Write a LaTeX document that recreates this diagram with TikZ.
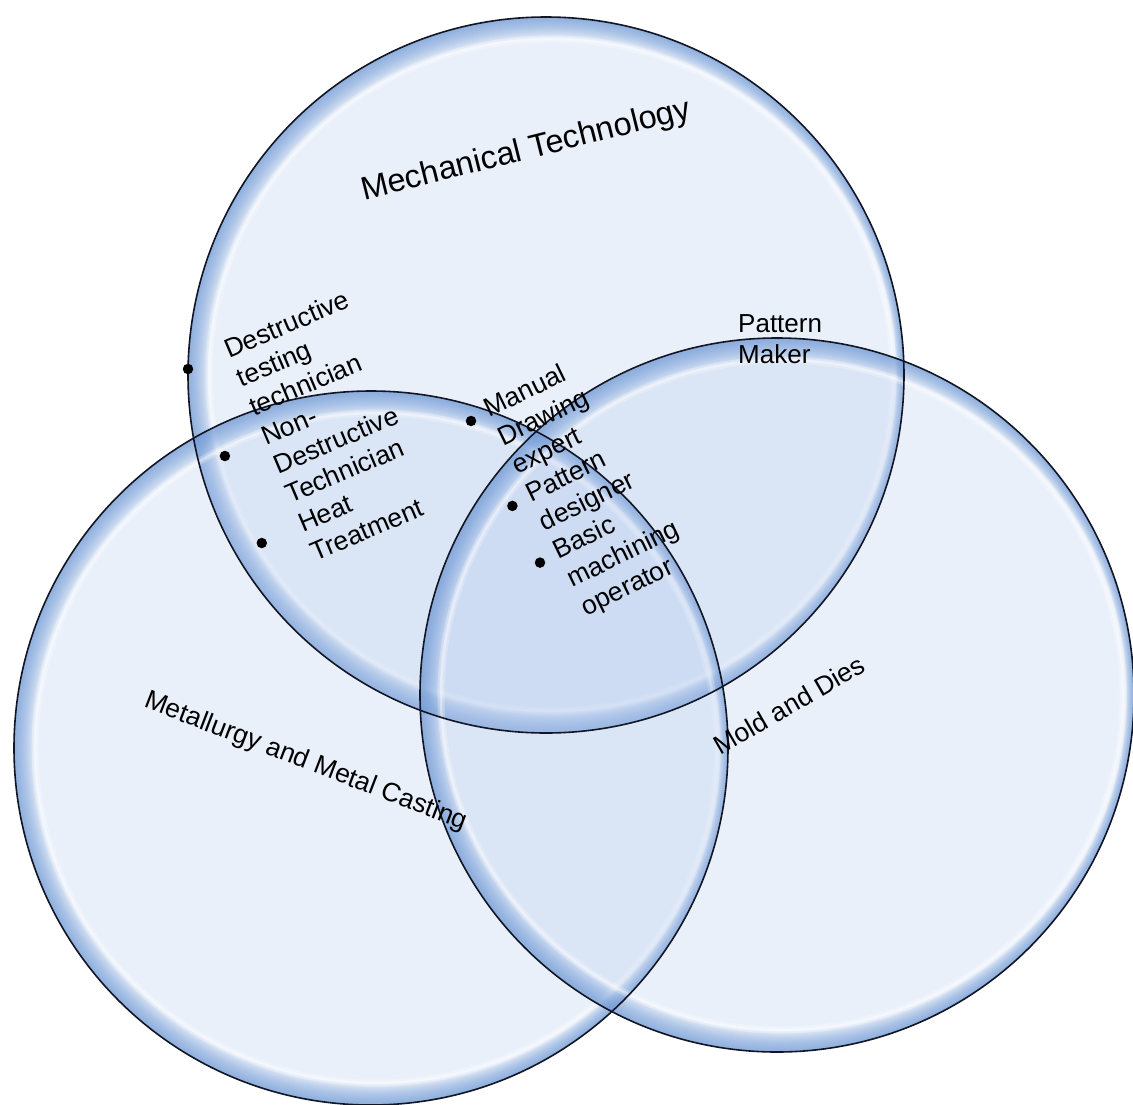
\documentclass[tikz,border=0pt]{standalone}
\usepackage{fontspec}
\setmainfont{Liberation Sans}
\definecolor{discfill}{RGB}{170,195,235}
\definecolor{rimblue}{RGB}{112,156,218}
\definecolor{edgeline}{RGB}{18,22,36}
% glassy disc: pale fill, soft blue rim thinner on the right, white glint ring
\newcommand\glassdisc[3]{%
  \fill[discfill, opacity=0.24] (#1,#2) circle (#3);
  \foreach \k in {1,...,22}{%
    \fill[rimblue, opacity=0.052, even odd rule]
      (#1,#2) circle (#3)
      ({#1+0.28*\k},#2) ellipse ({#3-0.65*\k} and {#3-0.95*\k});
  }%
  \draw[white, opacity=0.25, line width=7pt] ({#1+5},#2) ellipse ({#3-16} and {#3-22});
  \draw[white, opacity=0.35, line width=2.5pt] ({#1+5},#2) ellipse ({#3-16} and {#3-22});
}
\begin{document}
\begin{tikzpicture}[x=1pt,y=-1pt,
  lbl/.style={inner sep=0pt, font=\fontsize{26.5}{31.5}\selectfont},
  biglbl/.style={inner sep=0pt, font=\fontsize{32.5}{38}\selectfont},
  pmlbl/.style={inner sep=0pt, font=\fontsize{26}{31}\selectfont},
  dot/.style={circle, fill=black, inner sep=0pt, minimum size=10.5pt},
  rim/.style={draw=edgeline, line width=1.6pt}]
\useasboundingbox (0,0) rectangle (1133,1104);
\fill[white] (0,0) rectangle (1133,1104);
\begin{scope}
\clip (0,0) rectangle (1133,1104);
% the three sets
\glassdisc{546}{375}{358}
\glassdisc{371}{748}{357}
\glassdisc{777}{695}{357}
\draw[rim] (546,375) circle (358);
\draw[rim] (371,748) circle (357);
\draw[rim] (777,695) circle (357);
\end{scope}

% set titles
\node[biglbl, rotate=14] (mech) at (526,151) {Mechanical Technology};
\node[lbl, rotate=-21] (metal) at (306,762) {Metallurgy and Metal Casting};
\node[lbl, rotate=30] (mold) at (789,705) {Mold and Dies};
\node[pmlbl, anchor=base west] (pm) at (738,332)
  {\begin{tabular}[t]{@{}l@{}}Pattern\\Maker\end{tabular}};

% bulleted items, left group
\node[dot] (b1) at (188,369) {};
\node[dot] (b2) at (224.9,456) {};
\node[dot] (b3) at (261.8,543) {};
\node[lbl, rotate=23, anchor=base west] (t1) at (229.2,358.6)
  {\begin{tabular}[t]{@{}l@{}}Destructive\\testing\\technician\end{tabular}};
\node[lbl, rotate=23, anchor=base west] (t2) at (266.1,445.6)
  {\begin{tabular}[t]{@{}l@{}}Non-\\Destructive\\Technician\end{tabular}};
\node[lbl, rotate=23, anchor=base west] (t3) at (303,532.6)
  {\begin{tabular}[t]{@{}l@{}}Heat\\Treatment\end{tabular}};

% bulleted items, centre group
\node[dot] (m1) at (471,421) {};
\node[dot] (m2) at (512.4,505.9) {};
\node[dot] (m3) at (540,562.6) {};
\node[lbl, rotate=26, anchor=base west] (s1) at (489.6,418)
  {\begin{tabular}[t]{@{}l@{}}Manual\\Drawing\\expert\end{tabular}};
\node[lbl, rotate=26, anchor=base west] (s2) at (531,502.9)
  {\begin{tabular}[t]{@{}l@{}}Pattern\\designer\end{tabular}};
\node[lbl, rotate=26, anchor=base west] (s3) at (558.6,559.6)
  {\begin{tabular}[t]{@{}l@{}}Basic\\machining\\operator\end{tabular}};
\end{tikzpicture}
\end{document}
